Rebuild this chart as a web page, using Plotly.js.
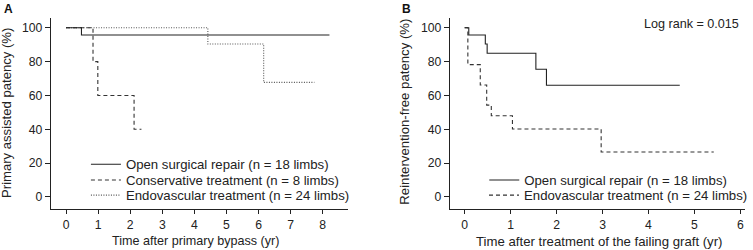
<!DOCTYPE html>
<html>
<head>
<meta charset="utf-8">
<script src="https://cdn.plot.ly/plotly-3.0.1.min.js"></script>
<style>html,body{margin:0;padding:0;background:#fff;}#chart{width:753px;height:250px;}</style>
</head>
<body>
<div id="chart"></div>
<script>
// Panel A: primary assisted patency
const openA_t = [0, 0.48, 8.21];
const openA_v = [100, 95.7, 95.7];
const consA_t = [0, 0.84, 0.99, 2.12, 2.35];
const consA_v = [100, 80, 60, 40, 40];
const endoA_t = [0, 4.42, 6.16, 7.74];
const endoA_v = [100, 90.4, 67.7, 67.7];
// Panel B: reintervention-free patency
const openB_t = [0, 0.09, 0.45, 0.49, 1.55, 1.78, 4.68];
const openB_v = [100, 95.7, 90.4, 84.9, 75.5, 66, 66];
const endoB_t = [0, 0.07, 0.34, 0.48, 0.58, 1.04, 2.97, 5.42];
const endoB_v = [100, 78.2, 66.2, 54.3, 48, 40.2, 26.6, 26.6];

const labelsA = ['Open surgical repair (n = 18 limbs)', 'Conservative treatment (n = 8 limbs)', 'Endovascular treatment (n = 24 limbs)'];
const labelsB = ['Open surgical repair (n = 18 limbs)', 'Endovascular treatment (n = 24 limbs)'];
const xTicksA = [0,1,2,3,4,5,6,7,8];
const xTicksB = [0,1,2,3,4,5,6];
const yTicks = [0,20,40,60,80,100];

const W = 753, H = 250;
const C = '#222';
const FONT = 'Liberation Sans, Arial, sans-serif';

function tr(t, v, name, dash, xa, ya, leg, col) {
  return {x: t, y: v, name: name, type: 'scatter', mode: 'lines',
    line: {shape: 'hv', width: 1.1, color: col || C, dash: dash},
    xaxis: xa, yaxis: ya, legend: leg, hoverinfo: 'skip'};
}

const DASH = '4px,3px';
const DOT = '1px,1.5px';
const data = [
  tr(endoA_t, endoA_v, labelsA[2], DOT, 'x', 'y', 'legend3', '#555'),
  tr(consA_t, consA_v, labelsA[1], DASH, 'x', 'y', 'legend2', '#333'),
  tr(openA_t, openA_v, labelsA[0], 'solid', 'x', 'y', 'legend'),
  tr(endoB_t, endoB_v, labelsB[1], DASH, 'x2', 'y2', 'legend5', '#333'),
  tr(openB_t, openB_v, labelsB[0], 'solid', 'x2', 'y2', 'legend4')
];

const TICKF = {family: FONT, size: 12.2, color: C};
function xax(dom, range, ticks, anchor) {
  return {domain: dom, range: range, tickvals: ticks, ticktext: ticks.map(String),
    showgrid: false, zeroline: false, showline: true, linecolor: C, linewidth: 1,
    ticks: 'outside', ticklen: 4, tickcolor: C, tickwidth: 1,
    tickfont: TICKF, anchor: anchor, fixedrange: true};
}
function yax(dom, anchor) {
  return {domain: dom, range: [-7.3, 105.6], tickvals: yTicks, ticktext: yTicks.map(String),
    showgrid: false, zeroline: false, showline: true, linecolor: C, linewidth: 1,
    ticks: 'outside', ticklen: 5, tickcolor: C, tickwidth: 1,
    tickfont: TICKF, anchor: anchor, fixedrange: true};
}
const ydom = [1 - 209.3/H, 1 - 18.3/H];

const legFont = {family: FONT, size: 13.2, color: C};
function leg(xpx, ypx) {
  return {x: xpx/W, y: 1 - ypx/H, xanchor: 'left', yanchor: 'middle', bgcolor: 'rgba(0,0,0,0)',
    font: legFont, itemwidth: 30, borderwidth: 0};
}
function ann(text, xpx, ypx, size, opts) {
  return Object.assign({text: text, x: xpx/W, y: 1 - ypx/H, xref: 'paper', yref: 'paper',
    xanchor: 'center', yanchor: 'middle', showarrow: false,
    font: {family: FONT, size: size, color: C}}, opts || {});
}
const layout = {
  width: W, height: H,
  margin: {l: 0, r: 0, t: 0, b: 0},
  paper_bgcolor: '#fff', plot_bgcolor: '#fff',
  showlegend: true,
  xaxis: xax([51/W, 350.7/W], [-0.48, 8.8], xTicksA, 'y'),
  yaxis: yax(ydom, 'x'),
  xaxis2: xax([452.7/W, 750/W], [-0.325, 6.1], xTicksB, 'y2'),
  yaxis2: yax(ydom, 'x2'),
  legend: leg(86.5, 164.7),
  legend2: leg(86.5, 180.4),
  legend3: leg(86.5, 195.5),
  legend4: leg(487.5, 180.4),
  legend5: leg(487.5, 195.5),
  annotations: [
    ann('<b>A</b>', 2, 9, 12, {xanchor: 'left', font: {family: FONT, size: 12, color: '#111'}}),
    ann('<b>B</b>', 403, 9, 12, {xanchor: 'left', font: {family: FONT, size: 12, color: '#111'}}),
    ann('Primary assisted patency (%)', 6.7, 113.3, 13.1, {textangle: -90}),
    ann('Reintervention-free patency (%)', 407.7, 111.7, 13.2, {textangle: -90}),
    ann('Time after primary bypass (yr)', 196.7, 241, 12.6),
    ann('Time after treatment of the failing graft (yr)', 603.7, 241, 13.2),
    ann('Log rank = 0.015', 746, 24, 12.6, {xanchor: 'right'})
  ]
};

Plotly.newPlot('chart', data, layout, {staticPlot: true, displayModeBar: false});
</script>
</body>
</html>
